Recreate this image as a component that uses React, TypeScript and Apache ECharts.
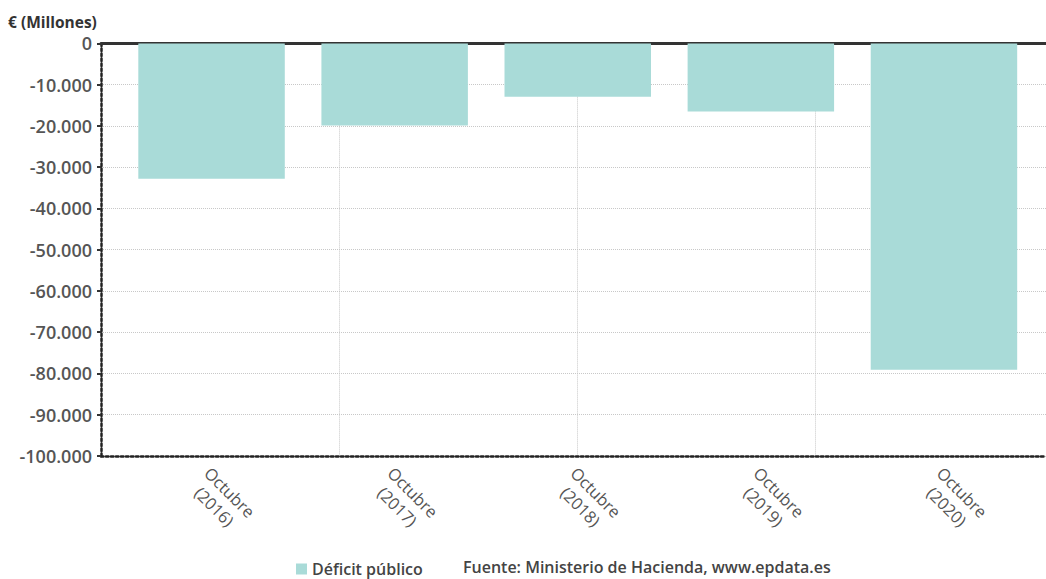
import React, { useEffect, useRef } from "react";
import * as echarts from "echarts";

const months = ["Octubre", "Octubre", "Octubre", "Octubre", "Octubre"];
const years = ["2016", "2017", "2018", "2019", "2020"];
const categories = years.map((y, i) => months[i] + "\n(" + y + ")");
const deficit = [-32800, -19900, -12900, -16500, -79100];
const seriesName = "Déficit público";
const sourceText = "Fuente: Ministerio de Hacienda, www.epdata.es";
const yTitle = "€ (Millones)";

const FONT = "'Open Sans', 'Noto Sans', sans-serif";

function fmt(v: number): string {
  const s = Math.abs(v).toString().replace(/\B(?=(\d{3})+(?!\d))/g, ".");
  return (v < 0 ? "-" : "") + s;
}

export default function App() {
  const ref = useRef<HTMLDivElement>(null);
  useEffect(() => {
    if (!ref.current) return;
    const chart = echarts.init(ref.current, undefined, { renderer: "svg" });
    const top = 43.4;
    const bottom = 123;
    chart.setOption({
      animation: false,
      backgroundColor: "#ffffff",
      textStyle: { fontFamily: FONT },
      grid: [
        { left: 120, right: 10.5, top, bottom, containLabel: false },
        { left: 101, right: 0, top, bottom, containLabel: false },
      ],
      legend: {
        data: [{ name: seriesName, icon: "rect" }],
        left: 291,
        top: 555,
        padding: [5, 5, 5, 5],
        itemWidth: 11,
        itemHeight: 11,
        itemGap: 6,
        textStyle: { fontFamily: FONT, fontSize: 16, fontWeight: 600, color: "#444", lineHeight: 18 },
      },
      graphic: [
        {
          type: "text",
          left: 8,
          top: 14,
          style: { text: yTitle, fontFamily: FONT, fontSize: 15.5, fontWeight: 700, fill: "#333" },
        },
        {
          type: "text",
          left: 463,
          top: 559,
          style: { text: sourceText, fontFamily: FONT, fontSize: 16, fontWeight: 600, fill: "#444" },
        },
      ],
      xAxis: [
        {
          type: "category",
          gridIndex: 0,
          data: categories,
          axisLine: { show: false },
          axisTick: { show: true, alignWithLabel: true, length: 4, lineStyle: { color: "#333", width: 2 } },
          axisLabel: {
            rotate: -45,
            margin: 3,
            verticalAlign: "top",
            formatter: (v: string) => {
              const parts = v.split("\n");
              return "{a|" + parts[0] + "}\n{b|" + parts[1] + "}";
            },
            rich: {
              a: { fontFamily: FONT, fontSize: 16.5, lineHeight: 21, color: "#555", padding: [0, 0, 0, 5] },
              b: { fontFamily: FONT, fontSize: 16.5, lineHeight: 21, color: "#555", padding: [0, 0, 0, 12] },
            },
          },
          splitLine: { show: false },
        },
        {
          type: "value",
          gridIndex: 1,
          position: "bottom",
          min: 0,
          max: 3.967,
          interval: 1,
          axisLine: { show: true, onZero: false, lineStyle: { color: "#222", width: 2.5, type: "dotted" } },
          axisTick: { show: false },
          axisLabel: { show: false },
          splitLine: { show: true, lineStyle: { color: "#c8c8c8", width: 1, type: "dotted" } },
        },
        {
          type: "value",
          gridIndex: 1,
          position: "top",
          min: 0,
          max: 1,
          axisLine: { show: true, onZero: false, lineStyle: { color: "#333", width: 3 } },
          axisTick: { show: false },
          axisLabel: { show: false },
          splitLine: { show: false },
        },
      ],
      yAxis: [
        {
          type: "value",
          gridIndex: 0,
          min: -100000,
          max: 0,
          interval: 10000,
          show: false,
          splitLine: { show: false },
        },
        {
          type: "value",
          gridIndex: 1,
          min: -100000,
          max: 0,
          interval: 10000,
          axisLine: { show: true, onZero: false, lineStyle: { color: "#222", width: 2.5, type: "dotted" } },
          axisTick: { show: true, length: 4, lineStyle: { color: "#333", width: 2 } },
          axisLabel: {
            formatter: (v: number) => fmt(v),
            fontFamily: FONT,
            fontSize: 18,
            fontWeight: 600,
            color: "#555",
            margin: 9,
          },
          splitLine: { show: true, lineStyle: { color: "#c8c8c8", width: 1, type: "dotted" } },
        },
      ],
      series: [
        {
          name: seriesName,
          type: "bar",
          xAxisIndex: 0,
          yAxisIndex: 0,
          data: deficit,
          barWidth: "80%",
          itemStyle: { color: "#a9dbd8" },
          z: 3,
        },
      ],
    });
    return () => chart.dispose();
  }, []);
  return (
    <div
      ref={ref}
      style={{ position: "fixed", left: 0, top: 0, width: 1046, height: 579 }}
    />
  );
}
